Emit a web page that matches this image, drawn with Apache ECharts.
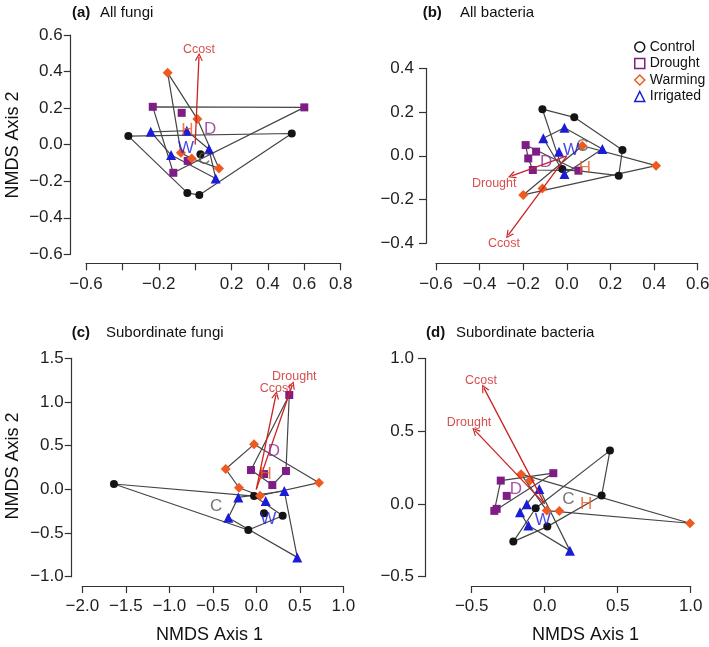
<!DOCTYPE html>
<html><head><meta charset="utf-8">
<script src="https://cdn.jsdelivr.net/npm/echarts@6/dist/echarts.min.js"></script>
<style>html,body{margin:0;padding:0;background:#fff}#c{width:709px;height:647px}</style>
</head><body><div id="c"></div>
<script>
// ---------- Data: (a) All fungi ----------
const aControl   = [[-0.367,0.047],[0.531,0.061],[-0.043,-0.264],[0.023,-0.276],[0.029,-0.052]];
const aDrought   = [[-0.233,0.207],[0.600,0.204],[-0.074,0.174],[-0.120,-0.154],[-0.041,-0.089]];
const aWarming   = [[-0.151,0.393],[0.012,0.140],[-0.078,-0.045],[-0.019,-0.076],[0.131,-0.130]];
const aIrrigated = [[-0.244,0.070],[-0.046,0.076],[-0.132,-0.057],[0.076,-0.025],[0.113,-0.185]];
const aVectors   = [['Ccost',0.021,0.481]];
const aVectorLabels = [['Ccost',0.021,0.522]];
const aCentroids = [['C',0.049,-0.081],['D',0.082,0.083],['H',-0.043,0.079],['W',-0.050,-0.021]];
const aXTicks = ['−0.6','','−0.2','','0.2','0.4','0.6','0.8'];
const aYTicks = ['−0.6','−0.4','−0.2','0.0','0.2','0.4','0.6'];

// ---------- Data: (b) All bacteria ----------
const bControl   = [[-0.112,0.213],[0.034,0.176],[0.255,0.027],[0.238,-0.091],[-0.021,-0.060]];
const bDrought   = [[-0.189,0.049],[-0.141,0.019],[-0.177,-0.012],[-0.156,-0.065],[0.053,-0.068]];
const bWarming   = [[0.409,-0.045],[-0.200,-0.179],[-0.112,-0.149],[0.071,0.046]];
const bIrrigated = [[-0.011,0.128],[-0.108,0.080],[0.163,0.031],[-0.036,0.019],[-0.011,-0.083]];
const bVectors   = [['Drought',-0.253,-0.092],['Ccost',-0.268,-0.362]];
const bVectorLabels = [['Drought',-0.333,-0.125],['Ccost',-0.288,-0.400]];
const bCentroids = [['C',0.071,0.042],['D',-0.095,-0.030],['H',0.083,-0.057],['W',0.019,0.027]];
const bXTicks = ['−0.6','−0.4','−0.2','0.0','0.2','0.4','0.6'];
const bYTicks = ['−0.4','−0.2','0.0','0.2','0.4'];

// ---------- Data: (c) Subordinate fungi ----------
const cControl   = [[-1.636,0.061],[-0.026,-0.077],[0.089,-0.275],[0.303,-0.302],[-0.092,-0.466]];
const cDrought   = [[0.379,1.080],[-0.061,0.221],[0.089,0.175],[0.341,0.210],[0.184,0.049]];
const cWarming   = [[-0.352,0.233],[-0.026,0.515],[0.721,0.076],[-0.199,0.018],[0.043,-0.073]];
const cIrrigated = [[-0.207,-0.092],[0.108,-0.134],[0.322,-0.019],[0.471,-0.779],[-0.322,-0.325]];
const cVectors   = [['Ccost',0.226,1.080],['Drought',0.414,1.195]];
const cVectorLabels = [['Ccost',0.223,1.149],['Drought',0.437,1.290]];
const cCentroids = [['C',-0.463,-0.199],['D',0.203,0.439],['H',0.108,0.175],['W',0.138,-0.344]];
const cXTicks = ['−2.0','−1.5','−1.0','−0.5','0.0','0.5','1.0'];
const cYTicks = ['−1.0','−0.5','0.0','0.5','1.0','1.5'];

// ---------- Data: (d) Subordinate bacteria ----------
const dControl   = [[0.447,0.366],[0.390,0.057],[-0.062,-0.030],[0.018,-0.156],[-0.215,-0.259]];
const dDrought   = [[-0.301,0.160],[0.059,0.211],[-0.260,0.055],[-0.329,-0.034],[-0.345,-0.048]];
const dWarming   = [[-0.162,0.204],[-0.101,0.160],[0.014,-0.046],[0.100,-0.048],[0.995,-0.133]];
const dIrrigated = [[-0.037,0.103],[-0.123,-0.002],[-0.169,-0.057],[-0.112,-0.149],[0.173,-0.321]];
const dVectors   = [['Ccost',-0.416,0.795],['Drought',-0.477,0.503]];
const dVectorLabels = [['Ccost',-0.436,0.845],['Drought',-0.518,0.558]];
const dCentroids = [['C',0.162,0.032],['D',-0.197,0.103],['H',0.283,0.000],['W',-0.014,-0.110]];
const dXTicks = ['−0.5','0.0','0.5','1.0'];
const dYTicks = ['−0.5','0.0','0.5','1.0'];

const groupNames = ['Control','Drought','Warming','Irrigated'];

// ---------- Styling ----------
const FONT = 'Liberation Sans, Arial, Helvetica, sans-serif';
const COLORS = {Control:'#141414', Drought:'#7e1d86', Warming:'#ee5a1f', Irrigated:'#1c1cd6'};
const SYMBOLS = {Control:'circle', Drought:'rect', Warming:'diamond', Irrigated:'triangle'};
const SIZES = {Control:8, Drought:8, Warming:10, Irrigated:10};
const LETTER_COLORS = {C:'#555555', D:'#8e2a94', H:'#ee5a1f', W:'#1c1cd6'};
const RED = '#cc2222';
const HULL = '#454545';
const AXIS = '#333333';
const CHEVRON = 'path://M5,0 L10,10 L8.4,10 L5,3.2 L1.6,10 L0,10 Z';

const panels = [
  {groups:[aControl,aDrought,aWarming,aIrrigated], vec:aVectors, vecLab:aVectorLabels, cen:aCentroids,
   grid:{left:86, top:35, width:254.7, height:219.3},
   x:{min:-0.6,max:0.8,interval:0.2,offset:9,ticks:aXTicks,margin:13},
   y:{min:-0.6,max:0.6,interval:0.2,offset:15.3,ticks:aYTicks,margin:8}},
  {groups:[bControl,bDrought,bWarming,bIrrigated], vec:bVectors, vecLab:bVectorLabels, cen:bCentroids,
   grid:{left:436, top:68.3, width:261.7, height:175},
   x:{min:-0.6,max:0.6,interval:0.2,offset:20,ticks:bXTicks,margin:13},
   y:{min:-0.4,max:0.4,interval:0.2,offset:10,ticks:bYTicks,margin:12}},
  {groups:[cControl,cDrought,cWarming,cIrrigated], vec:cVectors, vecLab:cVectorLabels, cen:cCentroids,
   grid:{left:82.3, top:358.3, width:261, height:218.4},
   x:{min:-2,max:1,interval:0.5,offset:9.3,ticks:cXTicks,margin:12},
   y:{min:-1,max:1.5,interval:0.5,offset:10.6,ticks:cYTicks,margin:8}},
  {groups:[dControl,dDrought,dWarming,dIrrigated], vec:dVectors, vecLab:dVectorLabels, cen:dCentroids,
   grid:{left:471.7, top:358.3, width:219, height:218.4},
   x:{min:-0.5,max:1,interval:0.5,offset:9.3,ticks:dXTicks,margin:12},
   y:{min:-0.5,max:1,interval:0.5,offset:46.7,ticks:dYTicks,margin:11}}
];

// convex hull (monotone chain), closed
function hull(points){
  const p = points.slice().sort((a,b)=>a[0]-b[0]||a[1]-b[1]);
  const cross=(o,a,b)=>(a[0]-o[0])*(b[1]-o[1])-(a[1]-o[1])*(b[0]-o[0]);
  const lower=[],upper=[];
  for(const q of p){while(lower.length>=2&&cross(lower[lower.length-2],lower[lower.length-1],q)<=0)lower.pop();lower.push(q);}
  for(let i=p.length-1;i>=0;i--){const q=p[i];while(upper.length>=2&&cross(upper[upper.length-2],upper[upper.length-1],q)<=0)upper.pop();upper.push(q);}
  upper.pop();lower.pop();
  const h=lower.concat(upper);h.push(h[0]);return h;
}

function axisCfg(a, i, pos){
  return {
    gridIndex:i, type:'value', position:pos, min:a.min, max:a.max, interval:a.interval, offset:a.offset,
    axisLine:{show:true, onZero:false, lineStyle:{color:AXIS, width:1.2}},
    axisTick:{show:true, inside:false, length:7, lineStyle:{color:AXIS, width:1.2}},
    axisLabel:{show:true, fontFamily:FONT, fontSize:17, color:'#1e1e1e', margin:a.margin,
      showMinLabel:true, showMaxLabel:true,
      formatter:(v)=>{const k=Math.round((v-a.min)/a.interval);return a.ticks[k]!==undefined?a.ticks[k]:'';}},
    splitLine:{show:false}
  };
}

const grids=[], xAxes=[], yAxes=[], series=[];
panels.forEach((P,i)=>{
  grids.push(Object.assign({outerBoundsMode:'none', containLabel:false}, P.grid));
  xAxes.push(axisCfg(P.x,i,'bottom'));
  yAxes.push(axisCfg(P.y,i,'left'));
  P.groups.forEach((pts,g)=>{
    series.push({type:'line', xAxisIndex:i, yAxisIndex:i, data:hull(pts), showSymbol:false, symbol:'none',
      silent:true, clip:false, z:2, animation:false, lineStyle:{color:HULL, width:1.2}});
  });
  P.groups.forEach((pts,g)=>{
    const nm=groupNames[g];
    series.push({type:'scatter', name:nm, xAxisIndex:i, yAxisIndex:i, data:pts, symbol:SYMBOLS[nm],
      symbolSize:SIZES[nm], clip:false, z:3, animation:false, itemStyle:{color:COLORS[nm], opacity:1}});
  });
  series.push({type:'lines', coordinateSystem:'cartesian2d', xAxisIndex:i, yAxisIndex:i, z:4, animation:false,
    symbol:['none',CHEVRON], symbolSize:[1,8], silent:true,
    lineStyle:{color:RED, width:1.3, opacity:1, curveness:0},
    data:P.vec.map(v=>({coords:[[0,0],[v[1],v[2]]]}))});
  series.push({type:'scatter', xAxisIndex:i, yAxisIndex:i, z:5, animation:false, silent:true, clip:false,
    symbolSize:1, itemStyle:{color:'rgba(0,0,0,0)'},
    label:{show:true, position:'inside', formatter:(p)=>p.value[2], color:RED, fontFamily:FONT, fontSize:12.5},
    data:P.vecLab.map(v=>[v[1],v[2],v[0]])});
  series.push({type:'scatter', xAxisIndex:i, yAxisIndex:i, z:5, animation:false, silent:true, clip:false,
    symbolSize:1, itemStyle:{color:'rgba(0,0,0,0)'},
    label:{show:true, position:'inside', formatter:(p)=>p.value[2], fontFamily:FONT, fontSize:17, color:'#555'},
    data:P.cen.map(v=>({value:[v[1],v[2],v[0]], label:{color:LETTER_COLORS[v[0]]}}))});
});

function txt(x,y,text,opts){
  return Object.assign({type:'text', x:x, y:y, silent:true,
    style:Object.assign({text:text, fontFamily:FONT, fontSize:15, fill:'#111', align:'left', verticalAlign:'middle'}, opts||{})});
}
const graphics = [
  txt(72,12.5,'(a)',{fontWeight:'bold'}), txt(100,12.5,'All fungi'),
  txt(422.7,12.5,'(b)',{fontWeight:'bold'}), txt(460,12.5,'All bacteria'),
  txt(71.7,332.5,'(c)',{fontWeight:'bold'}), txt(106,332.5,'Subordinate fungi'),
  txt(426,332.5,'(d)',{fontWeight:'bold'}), txt(456,332.5,'Subordinate bacteria'),
  Object.assign(txt(13.5,145,'NMDS Axis 2',{fontSize:18,align:'center'}),{rotation:Math.PI/2}),
  Object.assign(txt(13.5,466,'NMDS Axis 2',{fontSize:18,align:'center'}),{rotation:Math.PI/2}),
  txt(209.5,635.5,'NMDS Axis 1',{fontSize:18,align:'center'}),
  txt(585.5,635.5,'NMDS Axis 1',{fontSize:18,align:'center'})
];

const chart = echarts.init(document.getElementById('c'), null, {renderer:'canvas'});
chart.setOption({
  animation:false,
  backgroundColor:'#ffffff',
  grid:grids, xAxis:xAxes, yAxis:yAxes, series:series,
  legend:{show:true, orient:'vertical', left:629, top:35, itemWidth:10, itemHeight:10, itemGap:2.5,
    selectedMode:false,
    textStyle:{fontFamily:FONT, fontSize:14, color:'#111', lineHeight:14},
    data:groupNames.map(n=>({name:n, icon:SYMBOLS[n],
      itemStyle:{color:'rgba(255,255,255,0)', borderColor:COLORS[n], borderWidth:1.5}}))},
  graphic:graphics
});
</script></body></html>
